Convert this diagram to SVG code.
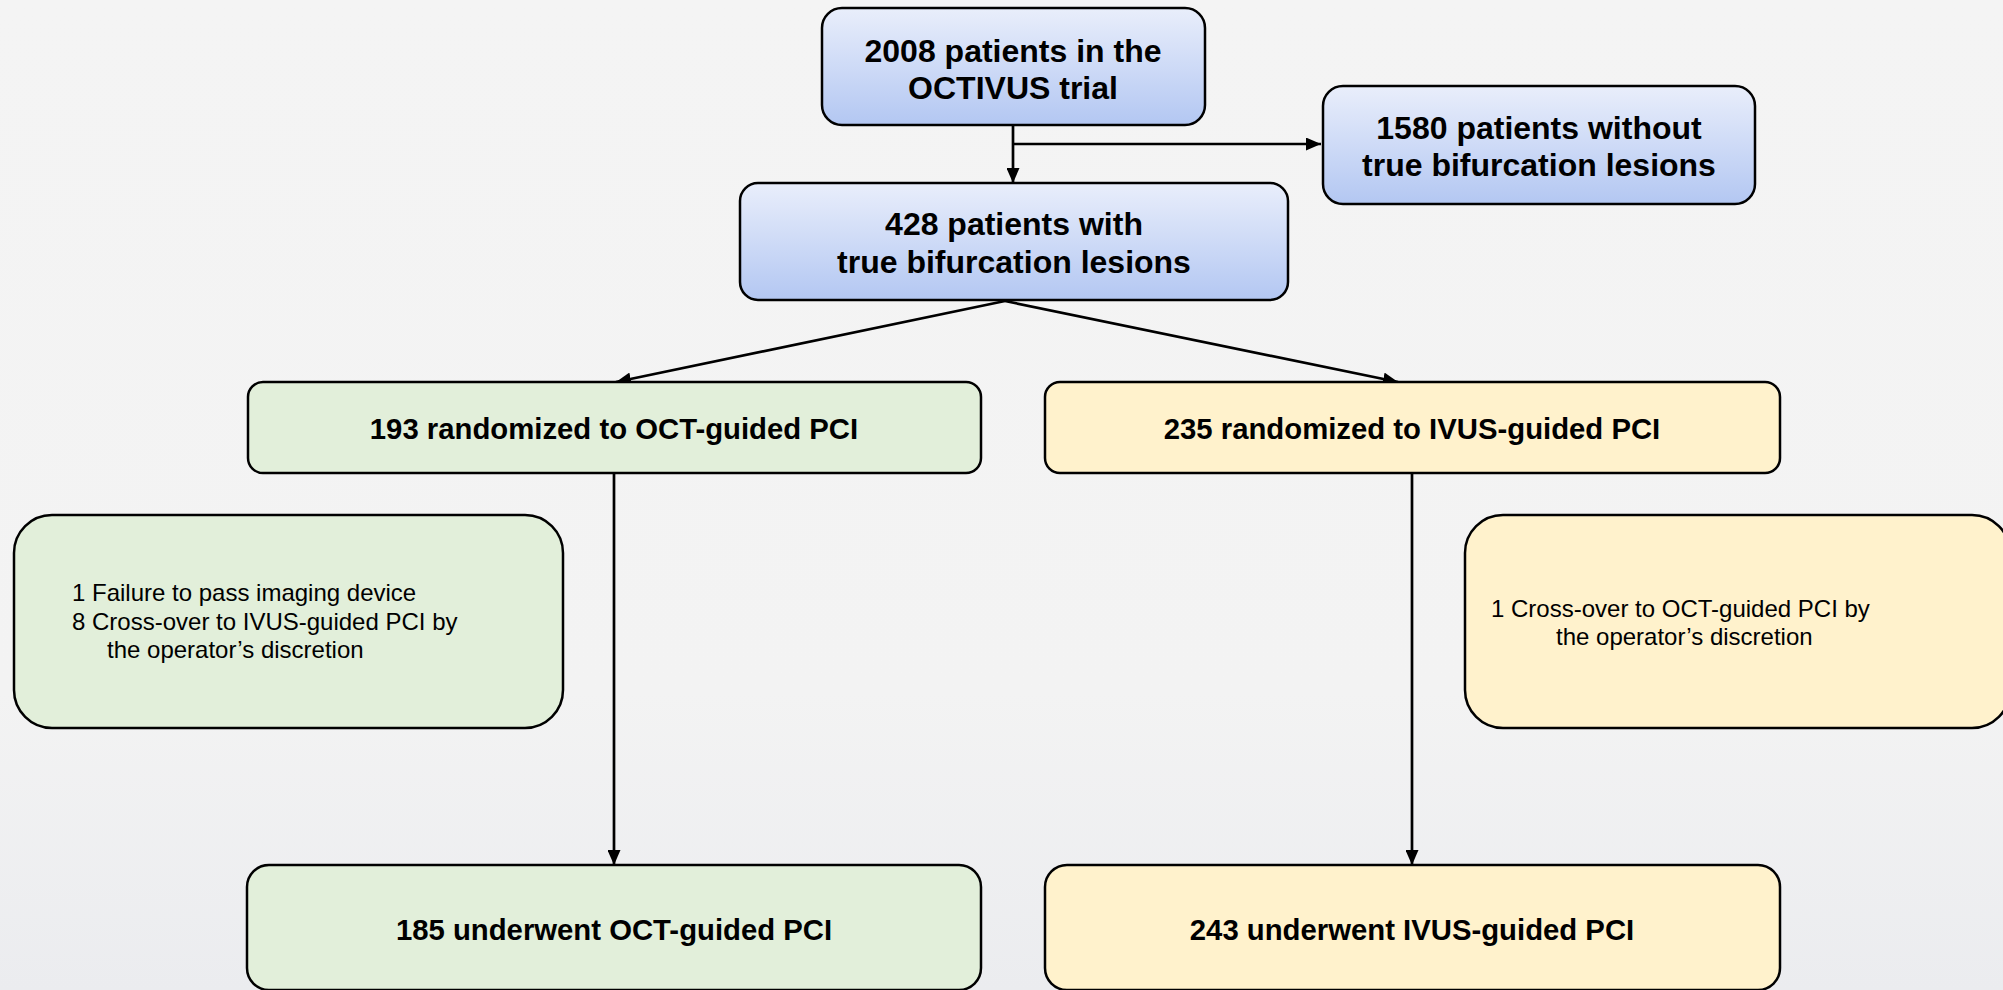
<svg xmlns="http://www.w3.org/2000/svg" width="2003" height="990" viewBox="0 0 2003 990">
<defs>
<linearGradient id="bg" x1="0" y1="0" x2="0" y2="1">
<stop offset="0" stop-color="#f4f4f4"/>
<stop offset="0.7" stop-color="#f3f3f3"/>
<stop offset="1" stop-color="#ebecef"/>
</linearGradient>
<linearGradient id="blue" x1="0" y1="0" x2="0" y2="1">
<stop offset="0" stop-color="#e9eefb"/>
<stop offset="1" stop-color="#b3c7f2"/>
</linearGradient>
<marker id="arr" viewBox="0 0 15 13" refX="15" refY="6.5" markerWidth="15" markerHeight="13" markerUnits="userSpaceOnUse" orient="auto">
<path d="M0,0 L15,6.5 L0,13 Z" fill="#000"/>
</marker>
</defs>
<style>
.box{stroke:#000;stroke-width:2.5}
.b{fill:url(#blue)}
.g{fill:#e2efda}
.y{fill:#fff2cc}
.t1{font-family:"Liberation Sans",Arial,sans-serif;font-weight:bold;font-size:32px;fill:#000;text-anchor:middle}
.t2{font-family:"Liberation Sans",Arial,sans-serif;font-weight:bold;font-size:29.3px;fill:#000;text-anchor:middle}
.t3{font-family:"Liberation Sans",Arial,sans-serif;font-size:24px;fill:#000}
.c{fill:none;stroke:#000;stroke-width:2.7}
</style>
<rect x="0" y="0" width="2003" height="990" fill="url(#bg)"/>

<g id="connectors">
<line class="c" x1="1013" y1="125" x2="1013" y2="183" marker-end="url(#arr)"/>
<line class="c" x1="1013" y1="144" x2="1321" y2="144" marker-end="url(#arr)"/>
<line class="c" x1="1005" y1="301" x2="616" y2="382" marker-end="url(#arr)"/>
<line class="c" x1="1005" y1="301" x2="1398" y2="382" marker-end="url(#arr)"/>
<line class="c" x1="614" y1="473" x2="614" y2="865" marker-end="url(#arr)"/>
<line class="c" x1="1412" y1="473" x2="1412" y2="865" marker-end="url(#arr)"/>
</g>

<g id="n-total">
<rect class="box b" x="822" y="8" width="383" height="117" rx="20"/>
<text class="t1" x="1013" y="62">2008 patients in the</text>
<text class="t1" x="1013" y="99">OCTIVUS trial</text>
</g>

<g id="n-without">
<rect class="box b" x="1323" y="86" width="432" height="118" rx="20"/>
<text class="t1" x="1539" y="139">1580 patients without</text>
<text class="t1" x="1539" y="176">true bifurcation lesions</text>
</g>

<g id="n-with">
<rect class="box b" x="740" y="183" width="548" height="117" rx="18"/>
<text class="t1" x="1014" y="235">428 patients with</text>
<text class="t1" x="1014" y="273">true bifurcation lesions</text>
</g>

<g id="n-oct-rand">
<rect class="box g" x="248" y="382" width="733" height="91" rx="15"/>
<text class="t2" x="614" y="439">193 randomized to OCT-guided PCI</text>
</g>

<g id="n-ivus-rand">
<rect class="box y" x="1045" y="382" width="735" height="91" rx="15"/>
<text class="t2" x="1412" y="439">235 randomized to IVUS-guided PCI</text>
</g>

<g id="n-oct-excl">
<rect class="box g" x="14" y="515" width="549" height="213" rx="38"/>
<text class="t3" x="72" y="601">1 Failure to pass imaging device</text>
<text class="t3" x="72" y="630">8 Cross-over to IVUS-guided PCI by</text>
<text class="t3" x="107" y="658">the operator’s discretion</text>
</g>

<g id="n-ivus-excl">
<rect class="box y" x="1465" y="515" width="545" height="213" rx="38"/>
<text class="t3" x="1491" y="617">1 Cross-over to OCT-guided PCI by</text>
<text class="t3" x="1556" y="645">the operator’s discretion</text>
</g>

<g id="n-oct-final">
<rect class="box g" x="247" y="865" width="734" height="125" rx="22"/>
<text class="t2" x="614" y="940">185 underwent OCT-guided PCI</text>
</g>

<g id="n-ivus-final">
<rect class="box y" x="1045" y="865" width="735" height="125" rx="22"/>
<text class="t2" x="1412" y="940">243 underwent IVUS-guided PCI</text>
</g>
</svg>
